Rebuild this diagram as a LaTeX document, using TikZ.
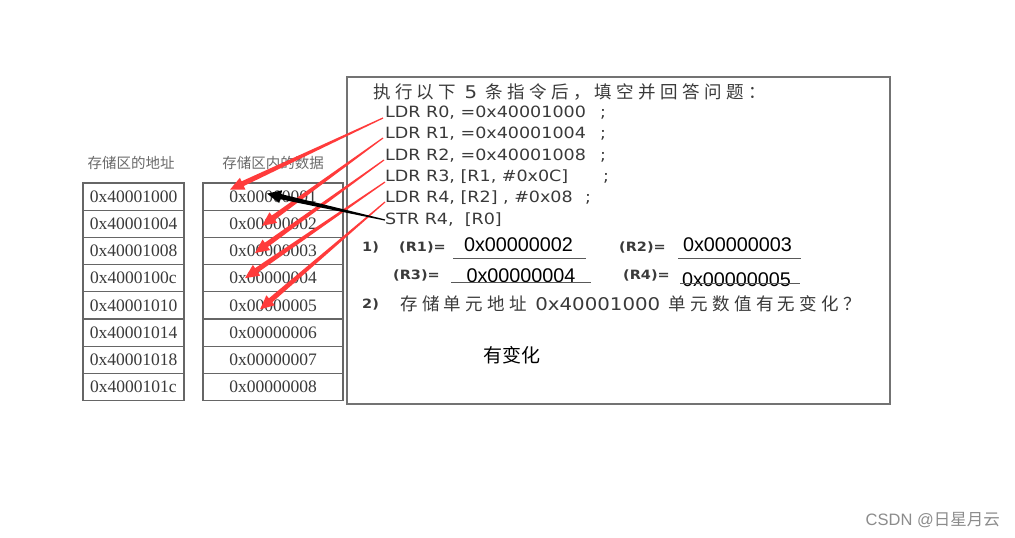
\documentclass[tikz,border=0pt]{standalone}
\usepackage{fontspec}
\setmainfont{Liberation Serif}
\newfontfamily\cjk{Noto Sans CJK SC}
\newfontfamily\cjkwide{Noto Sans CJK SC}[LetterSpace=25]
\newfontfamily\dv{DejaVu Sans}[FakeStretch=1.13]
\newfontfamily\ar{Liberation Sans}
\usetikzlibrary{positioning,calc}

\definecolor{txtgray}{HTML}{3A3A3A}
\definecolor{hdgray}{HTML}{6A6A6A}
\definecolor{arrred}{HTML}{FF3B3B}

\tikzset{
  cell/.style={draw=black!60, line width=1.2pt, minimum height=27.2pt, inner sep=0pt,
    outer sep=0pt, font=\fontsize{17.5}{18}\selectfont, text=txtgray},
  addr/.style={cell, minimum width=101pt},
  data/.style={cell, minimum width=140pt},
  colhead/.style={font=\cjk\fontsize{14.5}{15}\selectfont, text=hdgray},
  instr/.style={anchor=west, inner sep=0pt, font=\dv\fontsize{15.5}{16}\selectfont, text=txtgray},
  reg/.style={anchor=west, inner sep=0pt, font=\dv\bfseries\fontsize{12.8}{13}\selectfont, text=txtgray},
  answer/.style={inner sep=0pt, font=\ar\fontsize{19.8}{20}\selectfont},
  fillline/.style={draw=black!65, line width=1pt},
}

% tapered arrow from #2 to #3
\newcommand\taper[3][arrred]{%
  \coordinate (tb) at ($(#3)!14pt!(#2)$);
  \fill[#1] ($(#2)!0.6pt!90:(#3)$) -- ($(tb)!2.6pt!-90:(#2)$) -- ($(tb)!6.5pt!-90:(#2)$)
    -- (#3) -- ($(tb)!6.5pt!90:(#2)$) -- ($(tb)!2.6pt!90:(#2)$)
    -- ($(#2)!0.6pt!-90:(#3)$) -- cycle;}

\begin{document}
\begin{tikzpicture}[x=1pt, y=-1pt]
  \useasboundingbox[fill=white] (0,0) rectangle (1015,538);

  % memory table
  \node[colhead] (ha) at (131,163) {存储区的地址};
  \node[colhead] (hd) at (273,163) {存储区内的数据};
  \node[addr] (a1) at (133.5,196.6) {0x40001000};
  \node[addr, below=0pt of a1] (a2) {0x40001004};
  \node[addr, below=0pt of a2] (a3) {0x40001008};
  \node[addr, below=0pt of a3] (a4) {0x4000100c};
  \node[addr, below=0pt of a4] (a5) {0x40001010};
  \node[addr, below=0pt of a5] (a6) {0x40001014};
  \node[addr, below=0pt of a6] (a7) {0x40001018};
  \node[addr, below=0pt of a7] (a8) {0x4000101c};
  \foreach \i in {1,...,8}
    \node[data] (d\i) at (273,{196.6+27.2*(\i-1)}) {0x0000000\i};

  % question panel
  \node[draw=black!55, line width=1.2pt, minimum width=543pt, minimum height=327pt,
    inner sep=0pt] (panel) at (618.5,240.5) {};
  \node[instr, font=\cjkwide\fontsize{17.5}{18}\selectfont] (title) at (373,92)
    {执行以下 {\dv 5} 条指令后，填空并回答问题：};
  \node[instr] (ldr0) at (385,113) {LDR R0, =0x40001000};
  \node[instr] (ldr1) at (385,134) {LDR R1, =0x40001004};
  \node[instr] (ldr2) at (385,156) {LDR R2, =0x40001008};
  \node[instr] (ldr3) at (385,177) {LDR R3, [R1, \#0x0C]};
  \node[instr] (ldr4) at (385,198) {LDR R4, [R2] , \#0x08};
  \node[instr] (str) at (385,220) {STR R4,\ \ [R0]};
  \node[instr] (sc0) at (600,114) {;};
  \node[instr] (sc1) at (600,135) {;};
  \node[instr] (sc2) at (600,157) {;};
  \node[instr] (sc3) at (603,178) {;};
  \node[instr] (sc4) at (585,199) {;};

  \node[reg] (q1) at (362,247) {1)};
  \node[reg] (r1) at (399,247) {(R1)=};
  \node[reg] (r2) at (619,247) {(R2)=};
  \node[reg] (r3) at (393,275) {(R3)=};
  \node[reg] (r4) at (623,275) {(R4)=};
  \node[answer] (v1) at (518.5,245) {0x00000002};
  \node[answer] (v2) at (737.5,245) {0x00000003};
  \node[answer] (v3) at (521,276) {0x00000004};
  \node[answer] (v4) at (736.5,280) {0x00000005};
  \draw[fillline] (453,258) -- (586,258);
  \draw[fillline] (678,258) -- (801,258);
  \draw[fillline] (451,282) -- (591,282);
  \draw[fillline] (680,283) -- (800,283);

  \node[reg] (q2) at (362,304) {2)};
  \node[instr, font=\cjkwide\fontsize{17.5}{18}\selectfont] (quest) at (400,304)
    {存储单元地址 {\dv 0x40001000} 单元数值有无变化？};
  \node[font=\cjk\fontsize{19}{20}\selectfont] (reply) at (512,355) {有变化};

  % arrows from instructions to cells
  \coordinate (t0) at ($(ldr0.west)+(-2,5)$);
  \coordinate (t1) at ($(ldr1.west)+(-2,4)$);
  \coordinate (t2) at ($(ldr2.west)+(-1,4)$);
  \coordinate (t3) at ($(ldr3.west)+(0,5)$);
  \coordinate (t4) at ($(ldr4.west)+(0,4)$);
  \coordinate (ts) at ($(str.west)+(0,0)$);
  \coordinate (h0) at ($(d1.center)+(-43,-7)$);
  \coordinate (h1) at ($(d2.center)+(-11,2)$);
  \coordinate (h2) at ($(d3.center)+(-18,2)$);
  \coordinate (h3) at ($(d4.center)+(-28,0)$);
  \coordinate (h4) at ($(d5.center)+(-13,4)$);
  \coordinate (hs) at ($(d1.center)+(-6,-3)$);
  \taper{t0}{h0}
  \taper{t1}{h1}
  \taper{t2}{h2}
  \taper{t3}{h3}
  \taper{t4}{h4}
  \taper[black]{ts}{hs}

  \node[anchor=east, inner sep=0pt, text=black!45, font=\cjk\fontsize{16.5}{17}\selectfont]
    (mark) at (1000,520) {{\ar CSDN @}日星月云};
\end{tikzpicture}
\end{document}
